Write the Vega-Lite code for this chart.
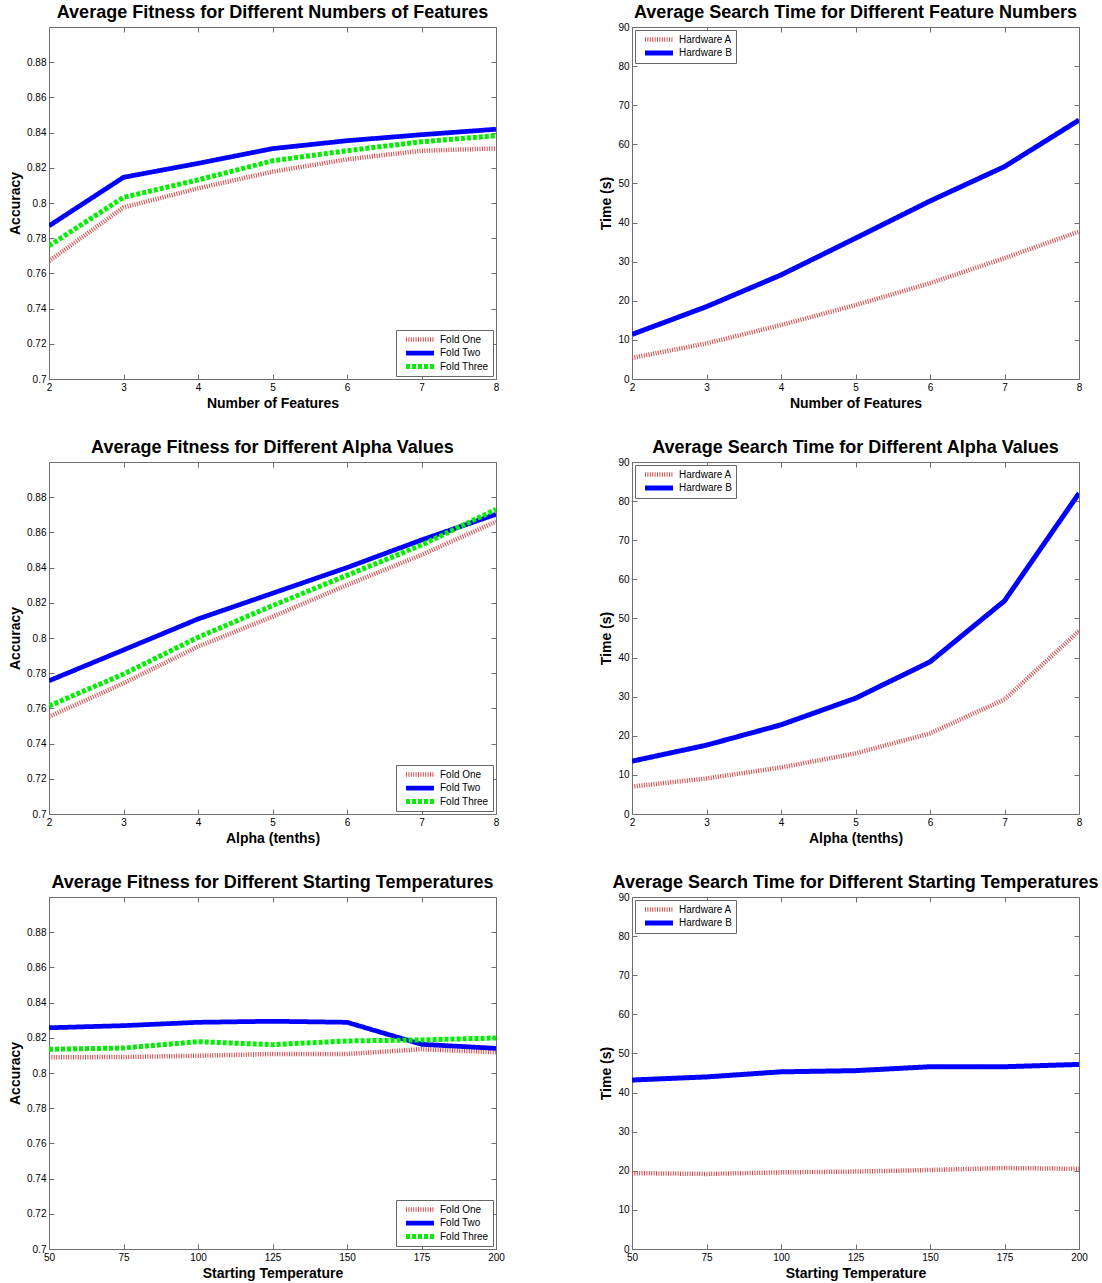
{
  "$schema": "https://vega.github.io/schema/vega-lite/v6.json",
  "padding": {"left": 8, "top": 3, "right": 0, "bottom": 0},
  "bounds": "flush",
  "columns": 2,
  "spacing": {"row": 83, "column": 136},
  "datasets": {
    "fitFeat": [
      {"x": 2, "series": "Fold One", "v": 0.767}, {"x": 3, "series": "Fold One", "v": 0.7975}, {"x": 4, "series": "Fold One", "v": 0.8083}, {"x": 5, "series": "Fold One", "v": 0.8178}, {"x": 6, "series": "Fold One", "v": 0.8248}, {"x": 7, "series": "Fold One", "v": 0.8297}, {"x": 8, "series": "Fold One", "v": 0.831},
      {"x": 2, "series": "Fold Two", "v": 0.787}, {"x": 3, "series": "Fold Two", "v": 0.8146}, {"x": 4, "series": "Fold Two", "v": 0.8225}, {"x": 5, "series": "Fold Two", "v": 0.8309}, {"x": 6, "series": "Fold Two", "v": 0.8354}, {"x": 7, "series": "Fold Two", "v": 0.8388}, {"x": 8, "series": "Fold Two", "v": 0.8419},
      {"x": 2, "series": "Fold Three", "v": 0.7757}, {"x": 3, "series": "Fold Three", "v": 0.8032}, {"x": 4, "series": "Fold Three", "v": 0.8131}, {"x": 5, "series": "Fold Three", "v": 0.824}, {"x": 6, "series": "Fold Three", "v": 0.8297}, {"x": 7, "series": "Fold Three", "v": 0.8348}, {"x": 8, "series": "Fold Three", "v": 0.8382}
    ],
    "timeFeat": [
      {"x": 2, "series": "Hardware A", "v": 5.4}, {"x": 3, "series": "Hardware A", "v": 9.1}, {"x": 4, "series": "Hardware A", "v": 13.8}, {"x": 5, "series": "Hardware A", "v": 18.9}, {"x": 6, "series": "Hardware A", "v": 24.5}, {"x": 7, "series": "Hardware A", "v": 30.9}, {"x": 8, "series": "Hardware A", "v": 37.7},
      {"x": 2, "series": "Hardware B", "v": 11.4}, {"x": 3, "series": "Hardware B", "v": 18.5}, {"x": 4, "series": "Hardware B", "v": 26.6}, {"x": 5, "series": "Hardware B", "v": 36.0}, {"x": 6, "series": "Hardware B", "v": 45.5}, {"x": 7, "series": "Hardware B", "v": 54.3}, {"x": 8, "series": "Hardware B", "v": 66.2}
    ],
    "fitAlpha": [
      {"x": 2, "series": "Fold One", "v": 0.7553}, {"x": 3, "series": "Fold One", "v": 0.7743}, {"x": 4, "series": "Fold One", "v": 0.7951}, {"x": 5, "series": "Fold One", "v": 0.8121}, {"x": 6, "series": "Fold One", "v": 0.8301}, {"x": 7, "series": "Fold One", "v": 0.8472}, {"x": 8, "series": "Fold One", "v": 0.8661},
      {"x": 2, "series": "Fold Two", "v": 0.7757}, {"x": 3, "series": "Fold Two", "v": 0.7932}, {"x": 4, "series": "Fold Two", "v": 0.8108}, {"x": 5, "series": "Fold Two", "v": 0.8254}, {"x": 6, "series": "Fold Two", "v": 0.84}, {"x": 7, "series": "Fold Two", "v": 0.8557}, {"x": 8, "series": "Fold Two", "v": 0.8703},
      {"x": 2, "series": "Fold Three", "v": 0.7614}, {"x": 3, "series": "Fold Three", "v": 0.7795}, {"x": 4, "series": "Fold Three", "v": 0.8004}, {"x": 5, "series": "Fold Three", "v": 0.8184}, {"x": 6, "series": "Fold Three", "v": 0.8356}, {"x": 7, "series": "Fold Three", "v": 0.8528}, {"x": 8, "series": "Fold Three", "v": 0.8731}
    ],
    "timeAlpha": [
      {"x": 2, "series": "Hardware A", "v": 7.0}, {"x": 3, "series": "Hardware A", "v": 9.1}, {"x": 4, "series": "Hardware A", "v": 11.9}, {"x": 5, "series": "Hardware A", "v": 15.5}, {"x": 6, "series": "Hardware A", "v": 20.6}, {"x": 7, "series": "Hardware A", "v": 29.3}, {"x": 8, "series": "Hardware A", "v": 46.8},
      {"x": 2, "series": "Hardware B", "v": 13.5}, {"x": 3, "series": "Hardware B", "v": 17.6}, {"x": 4, "series": "Hardware B", "v": 22.8}, {"x": 5, "series": "Hardware B", "v": 29.6}, {"x": 6, "series": "Hardware B", "v": 38.9}, {"x": 7, "series": "Hardware B", "v": 54.5}, {"x": 8, "series": "Hardware B", "v": 82.0}
    ],
    "fitTemp": [
      {"x": 50, "series": "Fold One", "v": 0.8089}, {"x": 75, "series": "Fold One", "v": 0.8091}, {"x": 100, "series": "Fold One", "v": 0.8098}, {"x": 125, "series": "Fold One", "v": 0.8108}, {"x": 150, "series": "Fold One", "v": 0.8108}, {"x": 175, "series": "Fold One", "v": 0.8135}, {"x": 200, "series": "Fold One", "v": 0.8118},
      {"x": 50, "series": "Fold Two", "v": 0.8257}, {"x": 75, "series": "Fold Two", "v": 0.8269}, {"x": 100, "series": "Fold Two", "v": 0.8288}, {"x": 125, "series": "Fold Two", "v": 0.8294}, {"x": 150, "series": "Fold Two", "v": 0.8288}, {"x": 175, "series": "Fold Two", "v": 0.8163}, {"x": 200, "series": "Fold Two", "v": 0.814},
      {"x": 50, "series": "Fold Three", "v": 0.8135}, {"x": 75, "series": "Fold Three", "v": 0.8142}, {"x": 100, "series": "Fold Three", "v": 0.8178}, {"x": 125, "series": "Fold Three", "v": 0.8161}, {"x": 150, "series": "Fold Three", "v": 0.8182}, {"x": 175, "series": "Fold Three", "v": 0.8188}, {"x": 200, "series": "Fold Three", "v": 0.8199}
    ],
    "timeTemp": [
      {"x": 50, "series": "Hardware A", "v": 19.4}, {"x": 75, "series": "Hardware A", "v": 19.2}, {"x": 100, "series": "Hardware A", "v": 19.6}, {"x": 125, "series": "Hardware A", "v": 19.8}, {"x": 150, "series": "Hardware A", "v": 20.2}, {"x": 175, "series": "Hardware A", "v": 20.7}, {"x": 200, "series": "Hardware A", "v": 20.5},
      {"x": 50, "series": "Hardware B", "v": 43.2}, {"x": 75, "series": "Hardware B", "v": 44.0}, {"x": 100, "series": "Hardware B", "v": 45.3}, {"x": 125, "series": "Hardware B", "v": 45.6}, {"x": 150, "series": "Hardware B", "v": 46.6}, {"x": 175, "series": "Hardware B", "v": 46.6}, {"x": 200, "series": "Hardware B", "v": 47.2}
    ]
  },
  "concat": [
    {
      "width": 447, "height": 352,
      "title": {"text": "Average Fitness for Different Numbers of Features", "offset": 5},
      "data": {"name": "fitFeat"},
      "layer": [
        {
          "mark": {"type": "line", "clip": true},
          "encoding": {
            "x": {"field": "x", "type": "quantitative", "scale": {"domain": [2, 8], "nice": false, "zero": false}, "axis": {"title": "Number of Features", "values": [2, 3, 4, 5, 6, 7, 8]}},
            "y": {"field": "v", "type": "quantitative", "scale": {"domain": [0.7, 0.9], "nice": false, "zero": false}, "axis": {"title": "Accuracy", "values": [0.7, 0.72, 0.74, 0.76, 0.78, 0.8, 0.82, 0.84, 0.86, 0.88], "format": "~g"}},
            "color": {"field": "series", "type": "nominal", "scale": {"domain": ["Fold One", "Fold Two", "Fold Three"], "range": ["#d84848", "#0000ff", "#00f000"]}, "legend": {"orient": "bottom-right"}},
            "strokeDash": {"field": "series", "type": "nominal", "scale": {"domain": ["Fold One", "Fold Two", "Fold Three"], "range": [[1, 1.4], [1, 0], [4, 2]]}, "legend": {"orient": "bottom-right"}},
            "strokeWidth": {"field": "series", "type": "nominal", "scale": {"domain": ["Fold One", "Fold Two", "Fold Three"], "range": [4.5, 5, 5]}, "legend": {"orient": "bottom-right"}}
          }
        },
        {
          "mark": {"type": "line", "opacity": 0},
          "encoding": {
            "x": {"field": "x", "type": "quantitative", "scale": {"domain": [2, 8], "nice": false, "zero": false}, "axis": {"orient": "top", "title": null, "labels": false, "values": [2, 3, 4, 5, 6, 7, 8]}},
            "y": {"field": "v", "type": "quantitative", "scale": {"domain": [0.7, 0.9], "nice": false, "zero": false}, "axis": {"orient": "right", "title": null, "labels": false, "values": [0.7, 0.72, 0.74, 0.76, 0.78, 0.8, 0.82, 0.84, 0.86, 0.88]}}
          }
        }
      ],
      "resolve": {"axis": {"x": "independent", "y": "independent"}}
    },
    {
      "width": 447, "height": 352,
      "title": {"text": "Average Search Time for Different Feature Numbers", "offset": 0},
      "data": {"name": "timeFeat"},
      "layer": [
        {
          "mark": {"type": "line", "clip": true},
          "encoding": {
            "x": {"field": "x", "type": "quantitative", "scale": {"domain": [2, 8], "nice": false, "zero": false}, "axis": {"title": "Number of Features", "values": [2, 3, 4, 5, 6, 7, 8]}},
            "y": {"field": "v", "type": "quantitative", "scale": {"domain": [0, 90], "nice": false}, "axis": {"title": "Time (s)", "values": [0, 10, 20, 30, 40, 50, 60, 70, 80, 90]}},
            "color": {"field": "series", "type": "nominal", "scale": {"domain": ["Hardware A", "Hardware B"], "range": ["#d84848", "#0000ff"]}, "legend": {"orient": "top-left"}},
            "strokeDash": {"field": "series", "type": "nominal", "scale": {"domain": ["Hardware A", "Hardware B"], "range": [[1, 1.4], [1, 0]]}, "legend": {"orient": "top-left"}},
            "strokeWidth": {"field": "series", "type": "nominal", "scale": {"domain": ["Hardware A", "Hardware B"], "range": [4.5, 5]}, "legend": {"orient": "top-left"}}
          }
        },
        {
          "mark": {"type": "line", "opacity": 0},
          "encoding": {
            "x": {"field": "x", "type": "quantitative", "scale": {"domain": [2, 8], "nice": false, "zero": false}, "axis": {"orient": "top", "title": null, "labels": false, "values": [2, 3, 4, 5, 6, 7, 8]}},
            "y": {"field": "v", "type": "quantitative", "scale": {"domain": [0, 90], "nice": false}, "axis": {"orient": "right", "title": null, "labels": false, "values": [0, 10, 20, 30, 40, 50, 60, 70, 80, 90]}}
          }
        }
      ],
      "resolve": {"axis": {"x": "independent", "y": "independent"}}
    },
    {
      "width": 447, "height": 352,
      "title": {"text": "Average Fitness for Different Alpha Values", "offset": 5},
      "data": {"name": "fitAlpha"},
      "layer": [
        {
          "mark": {"type": "line", "clip": true},
          "encoding": {
            "x": {"field": "x", "type": "quantitative", "scale": {"domain": [2, 8], "nice": false, "zero": false}, "axis": {"title": "Alpha (tenths)", "values": [2, 3, 4, 5, 6, 7, 8]}},
            "y": {"field": "v", "type": "quantitative", "scale": {"domain": [0.7, 0.9], "nice": false, "zero": false}, "axis": {"title": "Accuracy", "values": [0.7, 0.72, 0.74, 0.76, 0.78, 0.8, 0.82, 0.84, 0.86, 0.88], "format": "~g"}},
            "color": {"field": "series", "type": "nominal", "scale": {"domain": ["Fold One", "Fold Two", "Fold Three"], "range": ["#d84848", "#0000ff", "#00f000"]}, "legend": {"orient": "bottom-right"}},
            "strokeDash": {"field": "series", "type": "nominal", "scale": {"domain": ["Fold One", "Fold Two", "Fold Three"], "range": [[1, 1.4], [1, 0], [4, 2]]}, "legend": {"orient": "bottom-right"}},
            "strokeWidth": {"field": "series", "type": "nominal", "scale": {"domain": ["Fold One", "Fold Two", "Fold Three"], "range": [4.5, 5, 5]}, "legend": {"orient": "bottom-right"}}
          }
        },
        {
          "mark": {"type": "line", "opacity": 0},
          "encoding": {
            "x": {"field": "x", "type": "quantitative", "scale": {"domain": [2, 8], "nice": false, "zero": false}, "axis": {"orient": "top", "title": null, "labels": false, "values": [2, 3, 4, 5, 6, 7, 8]}},
            "y": {"field": "v", "type": "quantitative", "scale": {"domain": [0.7, 0.9], "nice": false, "zero": false}, "axis": {"orient": "right", "title": null, "labels": false, "values": [0.7, 0.72, 0.74, 0.76, 0.78, 0.8, 0.82, 0.84, 0.86, 0.88]}}
          }
        }
      ],
      "resolve": {"axis": {"x": "independent", "y": "independent"}}
    },
    {
      "width": 447, "height": 352,
      "title": {"text": "Average Search Time for Different Alpha Values", "offset": 0},
      "data": {"name": "timeAlpha"},
      "layer": [
        {
          "mark": {"type": "line", "clip": true},
          "encoding": {
            "x": {"field": "x", "type": "quantitative", "scale": {"domain": [2, 8], "nice": false, "zero": false}, "axis": {"title": "Alpha (tenths)", "values": [2, 3, 4, 5, 6, 7, 8]}},
            "y": {"field": "v", "type": "quantitative", "scale": {"domain": [0, 90], "nice": false}, "axis": {"title": "Time (s)", "values": [0, 10, 20, 30, 40, 50, 60, 70, 80, 90]}},
            "color": {"field": "series", "type": "nominal", "scale": {"domain": ["Hardware A", "Hardware B"], "range": ["#d84848", "#0000ff"]}, "legend": {"orient": "top-left"}},
            "strokeDash": {"field": "series", "type": "nominal", "scale": {"domain": ["Hardware A", "Hardware B"], "range": [[1, 1.4], [1, 0]]}, "legend": {"orient": "top-left"}},
            "strokeWidth": {"field": "series", "type": "nominal", "scale": {"domain": ["Hardware A", "Hardware B"], "range": [4.5, 5]}, "legend": {"orient": "top-left"}}
          }
        },
        {
          "mark": {"type": "line", "opacity": 0},
          "encoding": {
            "x": {"field": "x", "type": "quantitative", "scale": {"domain": [2, 8], "nice": false, "zero": false}, "axis": {"orient": "top", "title": null, "labels": false, "values": [2, 3, 4, 5, 6, 7, 8]}},
            "y": {"field": "v", "type": "quantitative", "scale": {"domain": [0, 90], "nice": false}, "axis": {"orient": "right", "title": null, "labels": false, "values": [0, 10, 20, 30, 40, 50, 60, 70, 80, 90]}}
          }
        }
      ],
      "resolve": {"axis": {"x": "independent", "y": "independent"}}
    },
    {
      "width": 447, "height": 352,
      "title": {"text": "Average Fitness for Different Starting Temperatures", "offset": 5},
      "data": {"name": "fitTemp"},
      "layer": [
        {
          "mark": {"type": "line", "clip": true},
          "encoding": {
            "x": {"field": "x", "type": "quantitative", "scale": {"domain": [50, 200], "nice": false, "zero": false}, "axis": {"title": "Starting Temperature", "values": [50, 75, 100, 125, 150, 175, 200]}},
            "y": {"field": "v", "type": "quantitative", "scale": {"domain": [0.7, 0.9], "nice": false, "zero": false}, "axis": {"title": "Accuracy", "values": [0.7, 0.72, 0.74, 0.76, 0.78, 0.8, 0.82, 0.84, 0.86, 0.88], "format": "~g"}},
            "color": {"field": "series", "type": "nominal", "scale": {"domain": ["Fold One", "Fold Two", "Fold Three"], "range": ["#d84848", "#0000ff", "#00f000"]}, "legend": {"orient": "bottom-right"}},
            "strokeDash": {"field": "series", "type": "nominal", "scale": {"domain": ["Fold One", "Fold Two", "Fold Three"], "range": [[1, 1.4], [1, 0], [4, 2]]}, "legend": {"orient": "bottom-right"}},
            "strokeWidth": {"field": "series", "type": "nominal", "scale": {"domain": ["Fold One", "Fold Two", "Fold Three"], "range": [4.5, 5, 5]}, "legend": {"orient": "bottom-right"}}
          }
        },
        {
          "mark": {"type": "line", "opacity": 0},
          "encoding": {
            "x": {"field": "x", "type": "quantitative", "scale": {"domain": [50, 200], "nice": false, "zero": false}, "axis": {"orient": "top", "title": null, "labels": false, "values": [50, 75, 100, 125, 150, 175, 200]}},
            "y": {"field": "v", "type": "quantitative", "scale": {"domain": [0.7, 0.9], "nice": false, "zero": false}, "axis": {"orient": "right", "title": null, "labels": false, "values": [0.7, 0.72, 0.74, 0.76, 0.78, 0.8, 0.82, 0.84, 0.86, 0.88]}}
          }
        }
      ],
      "resolve": {"axis": {"x": "independent", "y": "independent"}}
    },
    {
      "width": 447, "height": 352,
      "title": {"text": "Average Search Time for Different Starting Temperatures", "offset": 0},
      "data": {"name": "timeTemp"},
      "layer": [
        {
          "mark": {"type": "line", "clip": true},
          "encoding": {
            "x": {"field": "x", "type": "quantitative", "scale": {"domain": [50, 200], "nice": false, "zero": false}, "axis": {"title": "Starting Temperature", "values": [50, 75, 100, 125, 150, 175, 200]}},
            "y": {"field": "v", "type": "quantitative", "scale": {"domain": [0, 90], "nice": false}, "axis": {"title": "Time (s)", "values": [0, 10, 20, 30, 40, 50, 60, 70, 80, 90]}},
            "color": {"field": "series", "type": "nominal", "scale": {"domain": ["Hardware A", "Hardware B"], "range": ["#d84848", "#0000ff"]}, "legend": {"orient": "top-left"}},
            "strokeDash": {"field": "series", "type": "nominal", "scale": {"domain": ["Hardware A", "Hardware B"], "range": [[1, 1.4], [1, 0]]}, "legend": {"orient": "top-left"}},
            "strokeWidth": {"field": "series", "type": "nominal", "scale": {"domain": ["Hardware A", "Hardware B"], "range": [4.5, 5]}, "legend": {"orient": "top-left"}}
          }
        },
        {
          "mark": {"type": "line", "opacity": 0},
          "encoding": {
            "x": {"field": "x", "type": "quantitative", "scale": {"domain": [50, 200], "nice": false, "zero": false}, "axis": {"orient": "top", "title": null, "labels": false, "values": [50, 75, 100, 125, 150, 175, 200]}},
            "y": {"field": "v", "type": "quantitative", "scale": {"domain": [0, 90], "nice": false}, "axis": {"orient": "right", "title": null, "labels": false, "values": [0, 10, 20, 30, 40, 50, 60, 70, 80, 90]}}
          }
        }
      ],
      "resolve": {"axis": {"x": "independent", "y": "independent"}}
    }
  ],
  "resolve": {"scale": {"color": "independent", "strokeDash": "independent", "strokeWidth": "independent"}, "legend": {"color": "independent", "strokeDash": "independent", "strokeWidth": "independent"}},
  "config": {
    "font": "Liberation Sans",
    "background": "#ffffff",
    "view": {"stroke": "#6f6f6f", "strokeWidth": 1},
    "axis": {"domain": false, "grid": false, "tickColor": "#6f6f6f", "tickSize": -5, "labelPadding": 8, "labelFontSize": 10, "labelColor": "#000000", "labelFont": "Liberation Sans", "labelFlush": false, "titleFontSize": 14, "titleFontWeight": "bold", "titleColor": "#000000", "titleFont": "Liberation Sans", "titlePadding": 4},
    "title": {"fontSize": 18, "fontWeight": "bold", "color": "#000000", "font": "Liberation Sans", "anchor": "middle"},
    "legend": {"title": null, "symbolType": "M-2.67,0H2.67", "symbolSize": 110, "clipHeight": 11, "labelFontSize": 10, "labelFont": "Liberation Sans", "labelColor": "#000000", "strokeColor": "#666666", "fillColor": "#ffffff", "padding": 4, "offset": 3, "rowPadding": 2.5, "labelOffset": 12, "symbolOffset": 12}
  }
}
